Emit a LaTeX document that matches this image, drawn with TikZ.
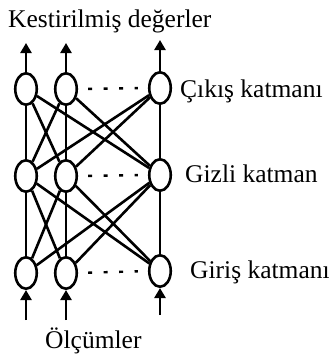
\documentclass[tikz,border=0pt]{standalone}
\usepackage{fontspec}
\setmainfont{Liberation Serif}
\usetikzlibrary{shapes.geometric,arrows.meta}
\begin{document}
\begin{tikzpicture}[x=1pt,y=-1pt,
  neuron/.style={draw,ellipse,line width=2.6pt,inner sep=0pt,minimum width=21.5pt,minimum height=31.5pt},
  link/.style={line width=2.6pt},
  flow/.style={line width=2.8pt,-{Triangle[length=10pt,width=11pt]}},
  dots/.style={line width=2.4pt,dash pattern=on 4pt off 11.5pt,shorten <=10pt,shorten >=10pt},
  lbl/.style={anchor=base west,inner sep=0pt,font=\fontsize{25.5}{30}\selectfont}]
\useasboundingbox (0,0) rectangle (329,359);
% nodes
\node[neuron] (o1) at (26,89) {};
\node[neuron] (o2) at (66,89) {};
\node[neuron] (o3) at (160,88) {};
\node[neuron] (h1) at (26,176) {};
\node[neuron] (h2) at (66,176) {};
\node[neuron] (h3) at (160,175) {};
\node[neuron] (i1) at (26,273) {};
\node[neuron] (i2) at (66,273) {};
\node[neuron] (i3) at (160,271) {};
% connections
\foreach \a in {o1,o2,o3}{\foreach \b in {h1,h2,h3}{\draw[link] (\a) -- (\b);}}
\foreach \a in {h1,h2,h3}{\foreach \b in {i1,i2,i3}{\draw[link] (\a) -- (\b);}}
% dotted
\draw[dots] (o2.east) -- (o3.west);
\draw[dots] (h2.east) -- (h3.west);
\draw[dots] (i2.east) -- (i3.west);
% output arrows
\coordinate (t1) at (26,43);
\coordinate (t2) at (66,43);
\coordinate (t3) at (160,40);
\draw[flow] (o1) -- (t1);
\draw[flow] (o2) -- (t2);
\draw[flow] (o3) -- (t3);
% input arrows
\coordinate (b1) at (26,320);
\coordinate (b2) at (66,320);
\coordinate (b3) at (160,315);
\draw[flow] (b1) -- (i1);
\draw[flow] (b2) -- (i2);
\draw[flow] (b3) -- (i3);
% labels
\node[lbl] (top) at (8,27) {Kestirilmiş değerler};
\node[lbl] (lo) at (180,97) {Çıkış katmanı};
\node[lbl] (lh) at (185,182) {Gizli katman};
\node[lbl] (li) at (190,278) {Giriş katmanı};
\node[lbl] (bot) at (45,348) {Ölçümler};
\end{tikzpicture}
\end{document}
